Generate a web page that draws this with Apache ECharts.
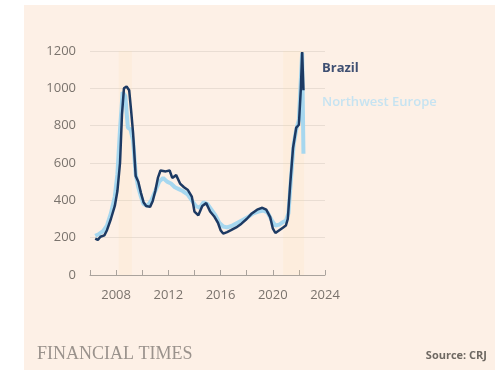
<!DOCTYPE html>
<html>
<head>
<meta charset="utf-8">
<script src="https://cdn.jsdelivr.net/npm/echarts@6/dist/echarts.min.js"></script>
<style>
  html, body { margin: 0; padding: 0; background: #ffffff; }
  #main { position: absolute; left: 0; top: 0; width: 495px; height: 370px; }
</style>
</head>
<body>
<div id="main"></div>
<script>
// Coal price, $ per tonne (year, value)
const brazil = [
  [2006.4, 195], [2006.6, 188], [2006.8, 205], [2007.1, 212], [2007.3, 240], [2007.6, 300],
  [2007.9, 370], [2008.1, 450], [2008.3, 600], [2008.45, 860], [2008.6, 1000], [2008.8, 1010],
  [2009.0, 990], [2009.15, 880], [2009.3, 760], [2009.5, 530], [2009.7, 500], [2009.9, 440],
  [2010.1, 390], [2010.3, 370], [2010.6, 365], [2010.8, 395], [2011.0, 450], [2011.2, 520],
  [2011.4, 560], [2011.8, 555], [2012.1, 560], [2012.3, 520], [2012.6, 535], [2012.9, 490],
  [2013.2, 470], [2013.5, 455], [2013.8, 420], [2014.0, 340], [2014.3, 320], [2014.6, 370],
  [2014.9, 385], [2015.2, 340], [2015.5, 315], [2015.8, 280], [2016.0, 240], [2016.2, 222],
  [2016.5, 230], [2016.8, 240], [2017.2, 255], [2017.6, 275], [2018.0, 300], [2018.4, 330],
  [2018.8, 350], [2019.2, 360], [2019.5, 350], [2019.8, 310], [2020.0, 250], [2020.2, 225],
  [2020.5, 240], [2020.8, 255], [2021.0, 265], [2021.15, 300], [2021.35, 500], [2021.55, 680],
  [2021.8, 790], [2022.0, 805], [2022.15, 1000], [2022.25, 1195], [2022.35, 990]
];
const europe = [
  [2006.4, 210], [2006.7, 220], [2007.0, 235], [2007.3, 265], [2007.6, 330], [2007.9, 420],
  [2008.1, 540], [2008.3, 780], [2008.5, 980], [2008.7, 960], [2008.9, 790], [2009.1, 780],
  [2009.3, 720], [2009.5, 540], [2009.7, 470], [2009.9, 420], [2010.1, 380], [2010.4, 370],
  [2010.7, 400], [2011.0, 450], [2011.3, 500], [2011.6, 520], [2011.9, 500], [2012.2, 490],
  [2012.5, 470], [2012.8, 460], [2013.1, 450], [2013.5, 430], [2013.8, 400], [2014.1, 370],
  [2014.4, 360], [2014.7, 390], [2015.0, 380], [2015.3, 350], [2015.6, 320], [2015.9, 280],
  [2016.2, 260], [2016.5, 255], [2016.9, 265], [2017.3, 280], [2017.7, 295], [2018.1, 310],
  [2018.5, 330], [2018.9, 340], [2019.3, 345], [2019.6, 335], [2019.9, 295], [2020.2, 265],
  [2020.5, 270], [2020.8, 285], [2021.0, 290], [2021.2, 330], [2021.4, 520], [2021.6, 700],
  [2021.8, 780], [2022.0, 830], [2022.15, 1050], [2022.25, 1190], [2022.35, 650]
];
const shadedSpans = [[2008.2, 2009.2], [2020.8, 2022.4]];
const yTicks = { min: 0, max: 1200, interval: 200 };
const xTicks = { min: 2006, max: 2024, interval: 2 };
const labelYears = [2008, 2012, 2016, 2020, 2024];

const myChart = echarts.init(document.getElementById('main'))
const grey = '#7a736d'

myChart.setOption({
  animation: false,
  backgroundColor: 'transparent',
  graphic: [
    // FT paper panel
    { type: 'rect', left: 24, top: 5, shape: { width: 471, height: 365 }, style: { fill: '#fdf0e6' }, z: -10 },
    { type: 'text', left: 322, top: 62, style: { text: 'Brazil', fill: '#3e4f72', font: 'bold 13px "Open Sans"' } },
    { type: 'text', left: 322, top: 96, style: { text: 'Northwest Europe', fill: '#c6e3f1', font: '600 13px "Open Sans"' } },
    { type: 'text', left: 37, top: 345, style: { text: 'FINANCIAL TIMES', fill: '#9a928c', font: '18px "Liberation Serif"' } },
    { type: 'text', right: 8, top: 350, style: { text: 'Source: CRJ', fill: '#6e6862', font: 'bold 11px "Open Sans"' } }
  ],
  grid: { left: 90, right: 170, top: 51, bottom: 95 },
  xAxis: {
    type: 'value',
    min: xTicks.min,
    max: xTicks.max,
    interval: xTicks.interval,
    splitLine: { show: false },
    axisLine: { lineStyle: { color: '#aaa39d', width: 1 } },
    axisTick: { show: true, inside: true, length: 5, lineStyle: { color: '#aaa39d' } },
    axisLabel: {
      color: grey,
      fontSize: 13,
      fontFamily: 'Open Sans',
      margin: 14,
      formatter: v => labelYears.indexOf(v) >= 0 ? String(v) : ''
    }
  },
  yAxis: {
    type: 'value',
    min: yTicks.min,
    max: yTicks.max,
    interval: yTicks.interval,
    axisLine: { show: false },
    axisTick: { show: false },
    splitLine: { lineStyle: { color: '#e9ddd3', width: 1 } },
    axisLabel: { color: grey, fontSize: 13, fontFamily: 'Open Sans', margin: 14, formatter: v => String(v) }
  },
  series: [
    {
      name: 'Northwest Europe',
      type: 'line',
      data: europe,
      showSymbol: false,
      lineStyle: { color: '#a6d7ef', width: 4 },
      markArea: {
        silent: true,
        itemStyle: { color: 'rgba(255, 226, 160, 0.12)' },
        data: shadedSpans.map(s => [{ xAxis: s[0] }, { xAxis: s[1] }])
      },
      z: 2
    },
    {
      name: 'Brazil',
      type: 'line',
      data: brazil,
      showSymbol: false,
      lineStyle: { color: '#1d3a63', width: 2.5 },
      z: 3
    }
  ]
})
</script>
</body>
</html>
